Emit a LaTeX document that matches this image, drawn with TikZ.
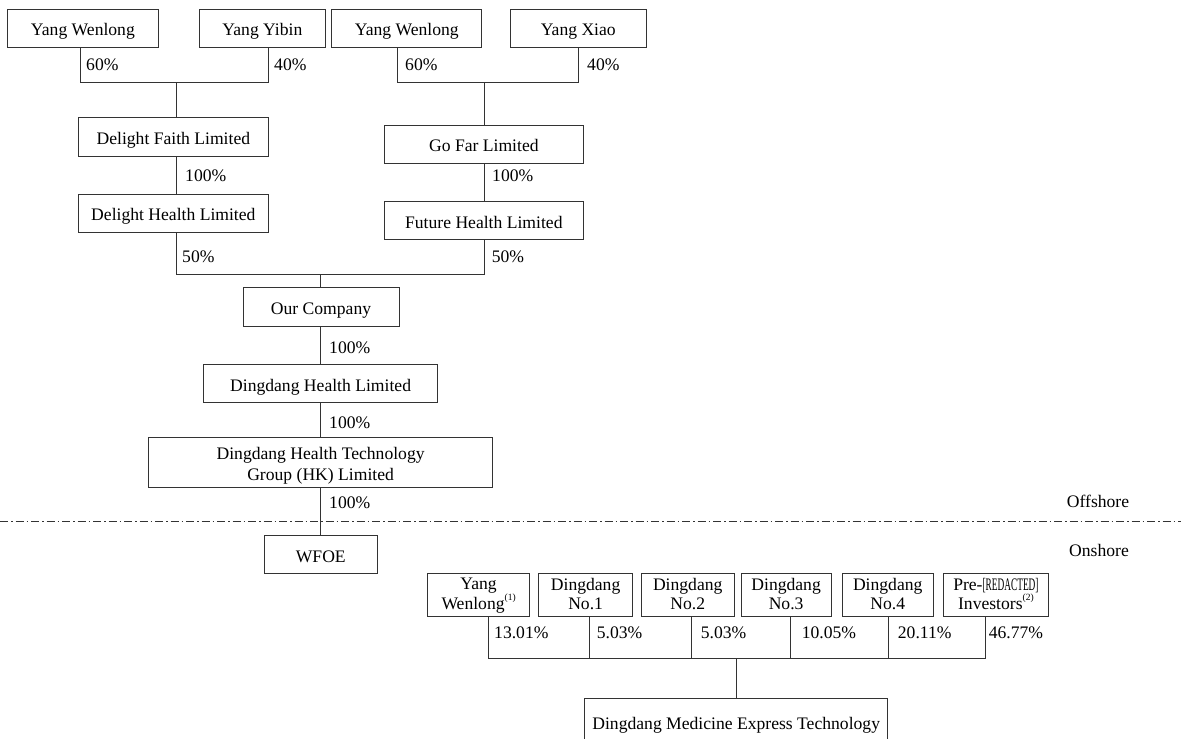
\documentclass[tikz,border=0pt]{standalone}
\usepackage{graphicx}
\usepackage{fontspec}
\setmainfont{Liberation Serif}
\newcommand\supn[1]{\raisebox{0.5em}{\fontsize{9.5}{9.5}\selectfont(#1)}}
\newcommand\redact{\scalebox{0.53}[1]{\fontsize{17.6}{17.6}\selectfont[REDACTED]}}
\begin{document}
\begin{tikzpicture}[x=1pt,y=-1pt,
  box/.style={draw=black!80, line width=1pt, inner sep=0pt, align=center,
    text height=17pt, text depth=1.5pt, font=\fontsize{17.6}{21}\selectfont},
  twoline/.style={text height=37pt, text depth=2pt, font=\fontsize{17.6}{20.7}\selectfont},
  shareline/.style={text height=30pt, text depth=2.2pt, font=\fontsize{17.6}{18.6}\selectfont},
  lbl/.style={inner sep=0pt, anchor=west, font=\fontsize{17.6}{21}\selectfont},
  conn/.style={draw=black!80, line width=1pt},
  sea/.style={draw=black!80, line width=1pt, dash pattern=on 8pt off 3pt on 1.5pt off 3pt}]
\clip (0,0) rectangle (1181,739);
\fill[white] (0,0) rectangle (1181,739);

% top row
\node[box, minimum width=150.6pt, minimum height=38pt] (yw1) at (82.9,28) {Yang Wenlong};
\node[box, minimum width=125.8pt, minimum height=38pt] (yy) at (262.4,28) {Yang Yibin};
\node[box, minimum width=150.3pt, minimum height=38pt] (yw2) at (406.75,28) {Yang Wenlong};
\node[box, minimum width=135.5pt, minimum height=38pt] (yx) at (578.25,28) {Yang Xiao};
% holding companies
\node[box, minimum width=189.3pt, minimum height=38.3pt] (dfl) at (173.35,136.85) {Delight Faith Limited};
\node[box, minimum width=189.3pt, minimum height=37.7pt] (dhl) at (173.35,213.15) {Delight Health Limited};
\node[box, minimum width=198.3pt, minimum height=38pt] (gfl) at (483.85,144) {Go Far Limited};
\node[box, minimum width=198.3pt, minimum height=38.7pt] (fhl) at (483.85,220.35) {Future Health Limited};
% trunk
\node[box, minimum width=156pt, minimum height=38.7pt] (ourco) at (321,306.65) {Our Company};
\node[box, minimum width=233.8pt, minimum height=38.4pt] (dhlt) at (320.6,383.5) {Dingdang Health Limited};
\node[box, twoline, minimum width=344pt, minimum height=50.4pt] (hk) at (320.6,462.5) {Dingdang Health Technology\\Group (HK) Limited};
\node[box, minimum width=113.5pt, minimum height=37.6pt] (wfoe) at (320.8,554.5) {WFOE};
% onshore shareholders
\node[box, shareline, minimum width=102.7pt, minimum height=43pt] (b1) at (478.6,595.4) {Yang\\Wenlong\supn{1}};
\node[box, shareline, minimum width=94.2pt, minimum height=43pt] (b2) at (585.6,595.4) {Dingdang\\No.1};
\node[box, shareline, minimum width=92.7pt, minimum height=43pt] (b3) at (687.7,595.4) {Dingdang\\No.2};
\node[box, shareline, minimum width=90.2pt, minimum height=43pt] (b4) at (786.1,595.4) {Dingdang\\No.3};
\node[box, shareline, minimum width=91.3pt, minimum height=43pt] (b5) at (887.7,595.4) {Dingdang\\No.4};
\node[box, shareline, minimum width=105.1pt, minimum height=43pt] (b6) at (995.9,595.4) {Pre-\redact\\Investors\supn{2}};
\node[box, text height=14pt, text depth=2.6pt, minimum width=303.3pt, minimum height=50pt, anchor=north] (dmet) at (736.2,698.3) {Dingdang Medicine Express Technology};

% junctions
\coordinate (j1) at (176,82.7);
\coordinate (j2) at (484,82.7);
\coordinate (j3) at (320.7,274.3);
\coordinate (j4) at (736.3,658.3);

% top-left group
\draw[conn] ([xshift=-2.9pt]yw1.south) |- (j1) -| ([xshift=5.9pt]yy.south);
\draw[conn] (j1) -- (j1 |- dfl.north);
\draw[conn] (dfl.south -| j1) -- (dhl.north -| j1);
% top-right group
\draw[conn] ([xshift=-9pt]yw2.south) |- (j2) -| ([xshift=0.5pt]yx.south);
\draw[conn] (j2) -- (j2 |- gfl.north);
\draw[conn] (gfl.south -| j2) -- (fhl.north -| j2);
% merge into Our Company
\draw[conn] (dhl.south -| j1) |- (j3) -| (fhl.south -| j2);
\draw[conn] (j3) -- (j3 |- ourco.north);
\draw[conn] (ourco.south -| j3) -- (dhlt.north -| j3);
\draw[conn] (dhlt.south -| j3) -- (hk.north -| j3);

% offshore / onshore line
\coordinate (dl) at (0,521.5);
\coordinate (dr) at (1181,521.5);
\draw[sea] (dl) -- (dr);
\draw[conn] (hk.south -| j3) -- (wfoe.north -| j3);

% bottom group
\coordinate (v1) at ([xshift=9.4pt]b1.south);
\coordinate (v2) at ([xshift=3.6pt]b2.south);
\coordinate (v3) at ([xshift=3.6pt]b3.south);
\coordinate (v4) at ([xshift=4.8pt]b4.south);
\coordinate (v5) at ([xshift=0.9pt]b5.south);
\coordinate (v6) at ([xshift=-10.5pt]b6.south);
\draw[conn] (v1) |- (j4) -| (v6);
\draw[conn] (v2) -- (v2 |- j4);
\draw[conn] (v3) -- (v3 |- j4);
\draw[conn] (v4) -- (v4 |- j4);
\draw[conn] (v5) -- (v5 |- j4);
\draw[conn] (j4) -- (j4 |- dmet.north);

% percentage labels
\node[lbl] (p1) at (86,65) {60\%};
\node[lbl] (p2) at (274,65) {40\%};
\node[lbl] (p3) at (405,65) {60\%};
\node[lbl] (p4) at (587,65) {40\%};
\node[lbl] (p5) at (185,176) {100\%};
\node[lbl] (p6) at (492,176) {100\%};
\node[lbl] (p7) at (182,257) {50\%};
\node[lbl] (p8) at (491.6,257) {50\%};
\node[lbl] (p9) at (329,347.7) {100\%};
\node[lbl] (p10) at (329,422.7) {100\%};
\node[lbl] (p11) at (329,502.3) {100\%};
\node[lbl] (q1) at (494,633) {13.01\%};
\node[lbl] (q2) at (596.7,633) {5.03\%};
\node[lbl] (q3) at (700.7,633) {5.03\%};
\node[lbl] (q4) at (801.6,633) {10.05\%};
\node[lbl] (q5) at (897.7,633) {20.11\%};
\node[lbl] (q6) at (988.6,633) {46.77\%};

\node[lbl, anchor=center] (off) at (1098,501) {Offshore};
\node[lbl, anchor=center] (on) at (1099,550.7) {Onshore};
\end{tikzpicture}
\end{document}
